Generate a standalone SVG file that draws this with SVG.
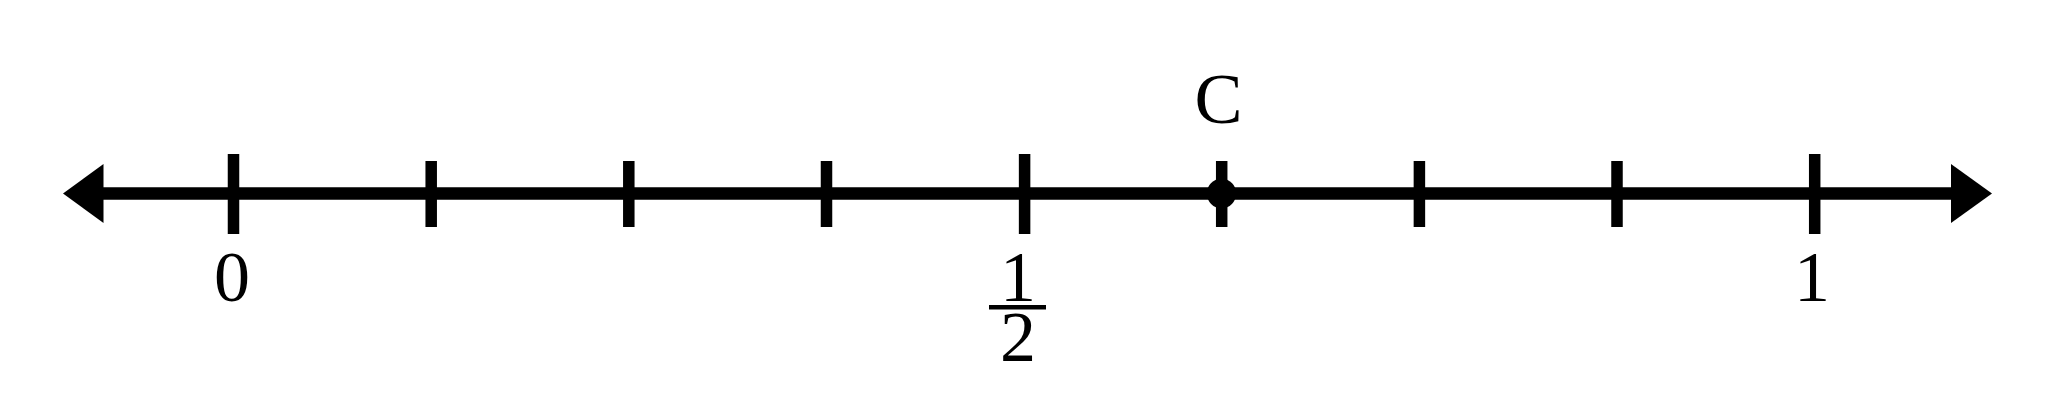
<svg xmlns="http://www.w3.org/2000/svg" width="2068" height="404" viewBox="0 0 2068 404">
<style>
.ax{stroke:#000;stroke-width:12.5;fill:none}
.tk{stroke:#000;stroke-width:11.5}
text{font-family:'Liberation Serif',serif;font-size:72px;fill:#000;text-anchor:middle}
</style>
<rect width="2068" height="404" fill="#fff"/>
<g id="connectors">
<line class="ax" x1="100" y1="193.5" x2="1955" y2="193.5"/>
<polygon points="63,193.5 103.5,164 103.5,223" fill="#000"/>
<polygon points="1992,193.5 1951,164 1951,223" fill="#000"/>
</g>
<g id="ticks">
<line class="tk" x1="233.5" y1="154" x2="233.5" y2="234"/>
<line class="tk" x1="431.2" y1="161" x2="431.2" y2="227"/>
<line class="tk" x1="628.8" y1="161" x2="628.8" y2="227"/>
<line class="tk" x1="826.5" y1="161" x2="826.5" y2="227"/>
<line class="tk" x1="1024.6" y1="154" x2="1024.6" y2="234"/>
<line class="tk" x1="1221.7" y1="161" x2="1221.7" y2="227"/>
<line class="tk" x1="1419.4" y1="161" x2="1419.4" y2="227"/>
<line class="tk" x1="1617" y1="161" x2="1617" y2="227"/>
<line class="tk" x1="1814.7" y1="154" x2="1814.7" y2="234"/>
</g>
<g id="pointC">
<circle cx="1221.5" cy="193.5" r="14.7" fill="#000"/>
<text x="1218.5" y="123">C</text>
</g>
<g id="label0"><text x="232" y="301">0</text></g>
<g id="labelHalf">
<text x="1018" y="301">1</text>
<rect x="989" y="305" width="57" height="4.5" fill="#000"/>
<text x="1018" y="361">2</text>
</g>
<g id="label1"><text x="1812" y="301">1</text></g>
</svg>
